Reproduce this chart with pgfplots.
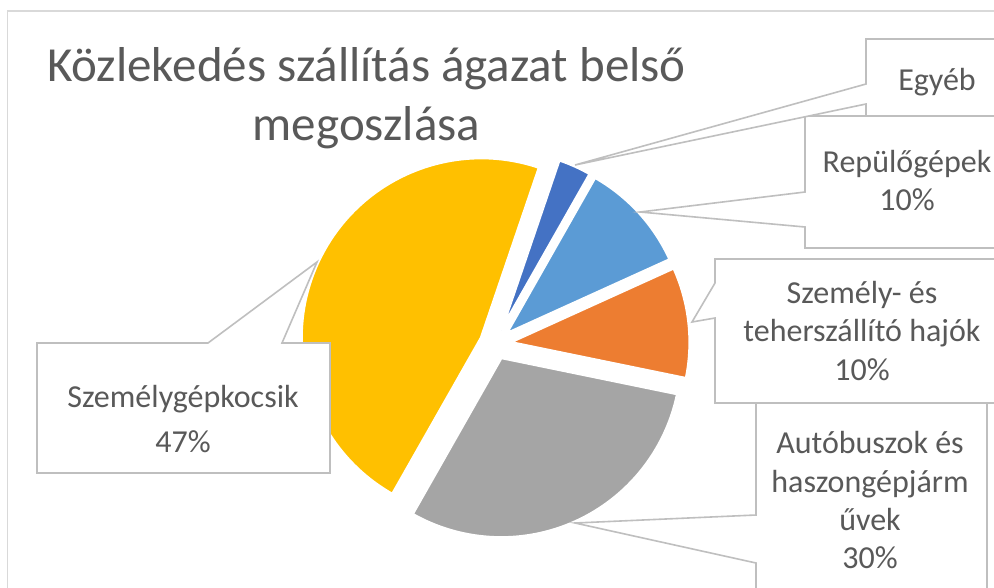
\documentclass[border=0pt]{standalone}
\usepackage{pgfplots}
\pgfplotsset{compat=1.18}
\usepackage{fontspec}
\setmainfont{Carlito}
\usetikzlibrary{calc}
\definecolor{cEgy}{HTML}{4472C4}
\definecolor{cRep}{HTML}{5B9BD5}
\definecolor{cHaj}{HTML}{ED7D31}
\definecolor{cAut}{HTML}{A5A5A5}
\definecolor{cSzem}{HTML}{FFC000}
\definecolor{txt}{HTML}{595959}
\definecolor{callout}{HTML}{BFBFBF}
\definecolor{framec}{HTML}{D9D9D9}
\begin{document}
\begin{tikzpicture}
\useasboundingbox (0,0) rectangle (994pt,587pt);
\clip (0,0) rectangle (994pt,587pt);
\begin{axis}[at={(0,0)}, anchor=south west, scale only axis,
  width=994pt, height=587pt, xmin=0, xmax=994, ymin=0, ymax=587,
  y dir=reverse, hide axis, clip=false]
% chart frame
\draw[framec, line width=1.8pt] (axis cs:7.5,620) -- (axis cs:7.5,11) -- (axis cs:1020,11);
% title
\node[anchor=base, txt, font=\fontsize{49}{58}\selectfont, inner sep=0pt] at (axis cs:366.5,81.7) {Közlekedés szállítás ágazat belső};
\node[anchor=base, txt, font=\fontsize{49}{58}\selectfont, inner sep=0pt] at (axis cs:366.5,140) {megoszlása};
% pie: shares in percent, clockwise from the first slice
\pgfplotsextra{%
  \xdef\cumang{71.2}%
  \foreach \v/\c in {3/cEgy, 10/cRep, 10/cHaj, 30/cAut, 47/cSzem}{%
    \pgfmathsetmacro\sA{\cumang}%
    \pgfmathsetmacro\eA{\cumang-3.6*\v}%
    \pgfmathsetmacro\mA{(\sA+\eA)/2}%
    \fill[\c, draw=white, line width=3pt]
      ($(axis cs:495,344)+(\mA:15pt)$) -- ++(\sA:180pt)
      arc[start angle=\sA, end angle=\eA, radius=180pt] -- cycle;
    \xdef\cumang{\eA}%
  }%
}
% callouts
\tikzset{co/.style={fill=white, draw=callout, line width=1.6pt}}
\filldraw[co] (axis cs:805,116) -- (axis cs:1010,116) -- (axis cs:1010,248) -- (axis cs:805,248) -- (axis cs:805,227) -- (axis cs:640,212) -- (axis cs:805,192) -- cycle;
\filldraw[co] (axis cs:866,39) -- (axis cs:1010,39) -- (axis cs:1010,116) -- (axis cs:866,116) -- (axis cs:866,104) -- (axis cs:575,165) -- (axis cs:866,84) -- cycle;
\filldraw[co] (axis cs:756,403) -- (axis cs:987,403) -- (axis cs:987,620) -- (axis cs:756,620) -- (axis cs:756,563) -- (axis cs:575,523) -- (axis cs:756,515) -- cycle;
\filldraw[co] (axis cs:715,259) -- (axis cs:1010,259) -- (axis cs:1010,403) -- (axis cs:715,403) -- (axis cs:715,318) -- (axis cs:692,322) -- (axis cs:715,283) -- cycle;
\filldraw[co] (axis cs:37,343) -- (axis cs:208,343) -- (axis cs:317,262) -- (axis cs:282,343) -- (axis cs:330,343) -- (axis cs:330,473) -- (axis cs:37,473) -- cycle;
% labels
\tikzset{lb/.style={anchor=base, txt, font=\fontsize{32}{38}\selectfont, inner sep=0pt}}
\node[lb] at (axis cs:937,90) {Egyéb};
\node[lb] at (axis cs:907,172) {Repülőgépek};
\node[lb] at (axis cs:907,210) {10\%};
\node[lb] at (axis cs:862,303) {Személy- és};
\node[lb] at (axis cs:862,341) {teherszállító hajók};
\node[lb] at (axis cs:862,380) {10\%};
\node[lb] at (axis cs:870,453) {Autóbuszok és};
\node[lb] at (axis cs:870,492) {haszongépjárm};
\node[lb] at (axis cs:870,530) {űvek};
\node[lb] at (axis cs:870,568) {30\%};
\node[lb] at (axis cs:183,407) {Személygépkocsik};
\node[lb] at (axis cs:183,452) {47\%};
\end{axis}
\end{tikzpicture}
\end{document}
